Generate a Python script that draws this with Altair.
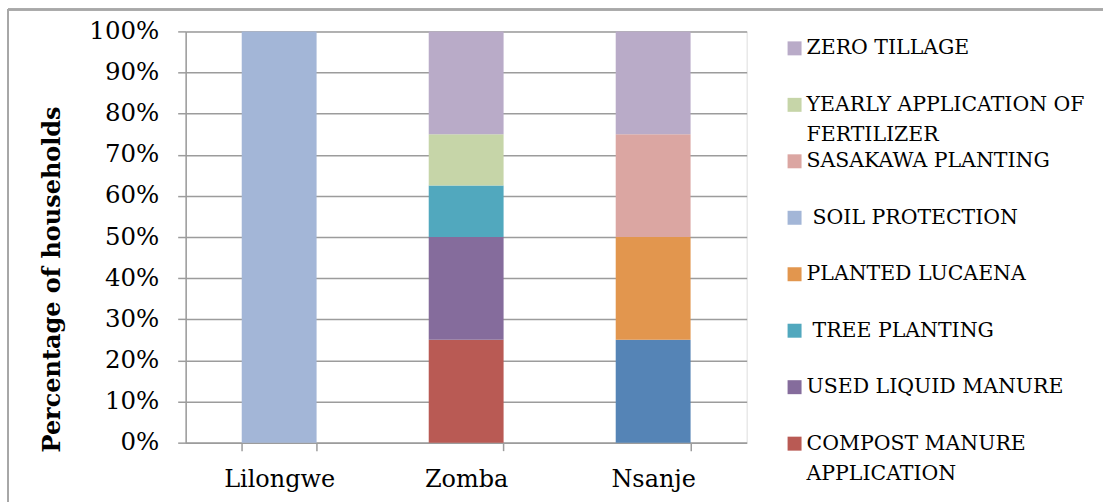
import altair as alt
import pandas as pd

districts = ["Lilongwe", "Zomba", "Nsanje"]

# Series in stacking order, bottom to top
practices = [
    "OTHER",
    "COMPOST MANURE APPLICATION",
    "USED LIQUID MANURE",
    "TREE PLANTING",
    "PLANTED LUCAENA",
    "SOIL PROTECTION",
    "SASAKAWA PLANTING",
    "YEARLY APPLICATION OF FERTILIZER",
    "ZERO TILLAGE",
]
colors = [
    "#5584B6", "#B95A54", "#856C9C", "#51A8BE", "#E2964E",
    "#A3B6D7", "#DBA6A2", "#C6D5A8", "#B9ABC8",
]

# Share of households per practice (fractions), same order as `practices`
lilongwe = [0, 0, 0, 0, 0, 1.0, 0, 0, 0]
zomba = [0, 0.25, 0.25, 0.125, 0, 0, 0, 0.125, 0.25]
nsanje = [0.25, 0, 0, 0, 0.25, 0, 0.25, 0, 0.25]

y_ticks = [0, 0.1, 0.2, 0.3, 0.4, 0.5, 0.6, 0.7, 0.8, 0.9, 1.0]

# Legend entries, top to bottom
legend_keys = [
    "ZERO TILLAGE",
    "YEARLY APPLICATION OF FERTILIZER",
    "SASAKAWA PLANTING",
    "SOIL PROTECTION",
    "PLANTED LUCAENA",
    "TREE PLANTING",
    "USED LIQUID MANURE",
    "COMPOST MANURE APPLICATION",
]
legend_line1 = [
    "ZERO TILLAGE",
    "YEARLY APPLICATION OF",
    "SASAKAWA PLANTING",
    "SOIL PROTECTION",
    "PLANTED LUCAENA",
    "TREE PLANTING",
    "USED LIQUID MANURE",
    "COMPOST MANURE",
]
legend_line2 = ["", "FERTILIZER", "", "", "", "", "", "APPLICATION"]
legend_indent = [0, 0, 0, 1, 0, 1, 0, 0]

rows = []
for district, values in zip(districts, [lilongwe, zomba, nsanje]):
    for rank, (practice, v) in enumerate(zip(practices, values)):
        if v > 0:
            rows.append({"district": district, "practice": practice, "rank": rank, "share": v})
bars_df = pd.DataFrame(rows)

legend_df = pd.DataFrame({
    "practice": legend_keys, "line1": legend_line1,
    "line2": legend_line2, "indent": legend_indent,
})

W, H = 562, 412
FONT = "DejaVu Serif"
GRID = "#9c9c9c"
LEG_SIZE = 20.5

color_scale = alt.Scale(domain=practices, range=colors)

bars = alt.Chart(bars_df).mark_bar(width=75).encode(
    x=alt.X(
        "district:N",
        sort=districts,
        title=None,
        scale=alt.Scale(paddingInner=0.6, paddingOuter=0.3),
        axis=alt.Axis(
            tickBand="extent", labelAngle=0, labelFont=FONT, labelFontSize=24,
            labelColor="black", labelPadding=17, tickSize=8, tickColor=GRID,
            tickWidth=1.5, domainColor=GRID, domainWidth=1.5, grid=False,
        ),
    ),
    y=alt.Y(
        "share:Q",
        stack="zero",
        scale=alt.Scale(domain=[0, 1], nice=False),
        title="Percentage of households",
        axis=alt.Axis(
            values=y_ticks, format=".0%", labelFont=FONT, labelFontSize=24.5,
            labelColor="black", labelPadding=19, tickSize=8, tickColor=GRID,
            tickWidth=1.5, domainColor=GRID, domainWidth=1.5,
            grid=True, gridColor=GRID, gridWidth=1.5,
            titleFont=FONT, titleFontSize=24, titleFontWeight="bold",
            titleColor="black", titleAngle=270, titleAlign="center",
            titleBaseline="middle", titleX=-133, titleY=248,
        ),
    ),
    color=alt.Color("practice:N", scale=color_scale, legend=None),
    order=alt.Order("rank:Q"),
)

legend_y = alt.Y(
    "practice:N",
    scale=alt.Scale(type="point", domain=legend_keys, range=[17, 413], padding=0),
    axis=None,
)

legend_sq = alt.Chart(legend_df).mark_square(size=196, opacity=1).encode(
    x=alt.value(610),
    y=legend_y,
    color=alt.Color("practice:N", scale=color_scale, legend=None),
)

text_style = dict(align="left", baseline="middle", font=FONT, fontSize=LEG_SIZE, color="black")

legend_txt1 = alt.Chart(legend_df).transform_filter("datum.indent == 0").mark_text(
    **text_style
).encode(x=alt.value(622), y=legend_y, text="line1:N")

legend_txt1_indented = alt.Chart(legend_df).transform_filter("datum.indent == 1").mark_text(
    dx=6, **text_style
).encode(x=alt.value(622), y=legend_y, text="line1:N")

legend_txt2 = alt.Chart(legend_df).transform_filter("datum.line2 != ''").mark_text(
    dy=30, **text_style
).encode(x=alt.value(622), y=legend_y, text="line2:N")

frame_top = alt.Chart(bars_df).mark_rule(color="#a8a8a8", strokeWidth=1.5).encode(
    x=alt.value(-178), x2=alt.value(919), y=alt.value(-22)
)
frame_left = alt.Chart(bars_df).mark_rule(color="#a8a8a8", strokeWidth=1.5).encode(
    x=alt.value(-178), y=alt.value(-22), y2=alt.value(472)
)

chart = (
    alt.layer(bars, legend_sq, legend_txt1, legend_txt1_indented, legend_txt2, frame_top, frame_left)
    .resolve_scale(y="independent")
    .properties(width=W, height=H, padding={"left": 7, "top": 8, "right": 0, "bottom": 0})
    .configure_view(stroke=None)
    .configure(background="white")
)

chart.save("out.html", embed_options={"renderer": "svg", "actions": False})
